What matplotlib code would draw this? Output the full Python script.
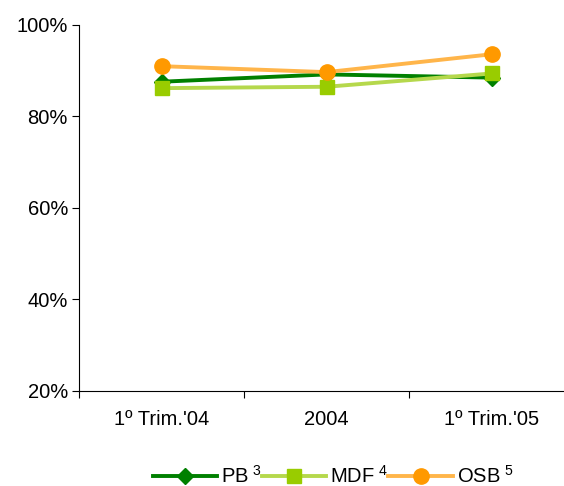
import matplotlib
matplotlib.use('Agg')
import matplotlib.pyplot as plt
import numpy as np

plt.rcParams['font.family'] = ['Liberation Sans', 'DejaVu Sans']
plt.rcParams['mathtext.fontset'] = 'custom'
plt.rcParams['mathtext.rm'] = 'Liberation Sans'

categories = ["1º Trim.'04", "2004", "1º Trim.'05"]
pb  = [87.6, 89.2, 88.5]
mdf = [86.2, 86.5, 89.4]
osb = [91.0, 89.7, 93.6]

PB_LINE,  PB_MARK  = '#008000', '#008000'
MDF_LINE, MDF_MARK = '#b5d84c', '#99cc00'
OSB_LINE, OSB_MARK = '#ffb54a', '#ff9900'
FS = 14.5

fig = plt.figure(figsize=(5.64, 4.86), dpi=100)
ax = fig.add_axes([79 / 564, 1 - 391 / 486, 495 / 564, 366 / 486])

x = np.arange(len(categories))
l1, = ax.plot(x, pb, color=PB_LINE, lw=2.8, marker='D', ms=8,
              mfc=PB_MARK, mec=PB_MARK, zorder=3, label='PB$^{\\,\\,3}$')
l2, = ax.plot(x, mdf, color=MDF_LINE, lw=2.8, marker='s', ms=10,
              mfc=MDF_MARK, mec=MDF_MARK, zorder=3, label='MDF$^{\\,\\,4}$')
l3, = ax.plot(x, osb, color=OSB_LINE, lw=2.8, marker='o', ms=11,
              mfc=OSB_MARK, mec=OSB_MARK, zorder=4, label='OSB$^{\\,\\,5}$')

ax.set_xlim(-0.5, len(categories) - 0.5)
ax.set_ylim(20, 100)
ax.set_yticks([20, 40, 60, 80, 100])
ax.set_yticklabels([f'{v}%' for v in [20, 40, 60, 80, 100]])
ax.set_xticks(x)
ax.set_xticklabels(categories)
ax.set_xticks(np.arange(-0.5, len(categories), 1), minor=True)
ax.tick_params(axis='x', which='major', length=0, pad=14, labelsize=FS)
ax.tick_params(axis='x', which='minor', length=5, direction='out', width=0.8)
ax.tick_params(axis='y', length=5, direction='out', width=0.8, labelsize=FS, pad=3)

for s in ['top', 'right']:
    ax.spines[s].set_visible(False)
for s in ['left', 'bottom']:
    ax.spines[s].set_linewidth(0.8)

fig.legend(handles=[l1, l2, l3], loc='center', ncol=3,
           bbox_to_anchor=(333 / 564, 1 - 476 / 486), frameon=False,
           fontsize=FS, handlelength=3.2, handletextpad=0.2,
           columnspacing=0.0, borderaxespad=0, borderpad=0)

fig.savefig('out.png', dpi=100)
